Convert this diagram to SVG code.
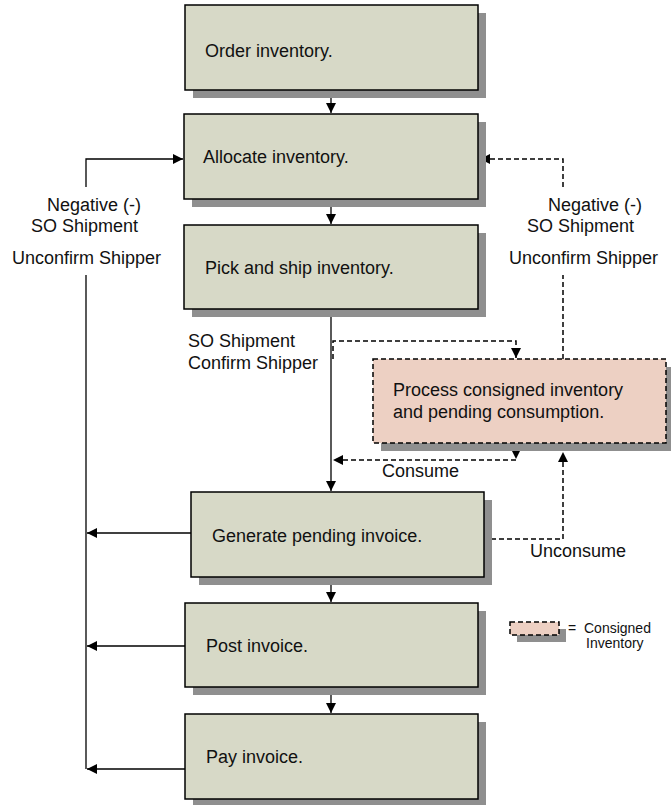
<svg xmlns="http://www.w3.org/2000/svg" width="671" height="805" viewBox="0 0 671 805">
<style>
  .box{fill:#d7d9c7;stroke:#000;stroke-width:1.5}
  .pink{fill:#edd0c3;stroke:#000;stroke-width:1.5;stroke-dasharray:5,3}
  .shadow{fill:#8f8f8f}
  .t{font-family:"Liberation Sans",Arial,sans-serif;font-size:18px;fill:#111}
  .s{font-family:"Liberation Sans",Arial,sans-serif;font-size:14px;fill:#111}
  .ln{fill:none;stroke:#000;stroke-width:1.3}
  .dl{fill:none;stroke:#000;stroke-width:1.5;stroke-dasharray:5,3}
</style>
<defs>
  <marker id="arr" markerUnits="userSpaceOnUse" markerWidth="10" markerHeight="10" viewBox="0 0 10 10" refX="10" refY="5" orient="auto">
    <path d="M0,0 L10,5 L0,10 z" fill="#000"/>
  </marker>
</defs>
<rect width="671" height="805" fill="#fff"/>

<g id="connectors">
  <path class="ln" d="M331,90 V113" marker-end="url(#arr)"/>
  <path class="ln" d="M331,199 V224" marker-end="url(#arr)"/>
  <path class="ln" d="M331,309 V491" marker-end="url(#arr)"/>
  <path class="ln" d="M331,577 V602" marker-end="url(#arr)"/>
  <path class="ln" d="M331,687 V713" marker-end="url(#arr)"/>
  <path class="ln" d="M86,187 V159 H183" marker-end="url(#arr)"/>
  <path class="ln" d="M86,275 V769"/>
  <path class="ln" d="M191,533 H87" marker-end="url(#arr)"/>
  <path class="ln" d="M185,646 H87" marker-end="url(#arr)"/>
  <path class="ln" d="M185,769 H87" marker-end="url(#arr)"/>
  <path class="dl" d="M563,187 V159 H480" marker-end="url(#arr)"/>
  <path class="dl" d="M563,359 V275"/>
  <path class="dl" d="M333,359 V341 H516 V358" marker-end="url(#arr)"/>
  <path class="dl" d="M516,443 V459" marker-end="url(#arr)"/>
  <path class="dl" d="M516,460 H333" marker-end="url(#arr)"/>
  <path class="dl" d="M491,539 H563 V452" marker-end="url(#arr)"/>
</g>

<g id="order">
  <rect class="shadow" x="193" y="13" width="293" height="85"/>
  <rect class="box" x="185" y="5" width="293" height="85"/>
  <text class="t" x="205" y="57">Order inventory.</text>
</g>
<g id="allocate">
  <rect class="shadow" x="192" y="122" width="294" height="85"/>
  <rect class="box" x="184" y="114" width="294" height="85"/>
  <text class="t" x="203" y="163">Allocate inventory.</text>
</g>
<g id="pick">
  <rect class="shadow" x="192" y="233" width="294" height="84"/>
  <rect class="box" x="184" y="225" width="294" height="84"/>
  <text class="t" x="205" y="274">Pick and ship inventory.</text>
</g>
<g id="process">
  <rect class="shadow" x="381" y="367" width="293" height="84"/>
  <rect class="pink" x="373" y="359" width="293" height="84"/>
  <text class="t" x="393" y="396">Process consigned inventory</text>
  <text class="t" x="393" y="418">and pending consumption.</text>
</g>
<g id="generate">
  <rect class="shadow" x="199" y="500" width="293" height="85"/>
  <rect class="box" x="191" y="492" width="293" height="85"/>
  <text class="t" x="212" y="542">Generate pending invoice.</text>
</g>
<g id="post">
  <rect class="shadow" x="193" y="611" width="293" height="84"/>
  <rect class="box" x="185" y="603" width="293" height="84"/>
  <text class="t" x="206" y="652">Post invoice.</text>
</g>
<g id="pay">
  <rect class="shadow" x="193" y="722" width="293" height="85"/>
  <rect class="box" x="185" y="714" width="293" height="85"/>
  <text class="t" x="206" y="763">Pay invoice.</text>
</g>

<g id="labels">
  <text class="t" x="47" y="211">Negative (-)</text>
  <text class="t" x="31" y="232">SO Shipment</text>
  <text class="t" x="12" y="264">Unconfirm Shipper</text>
  <text class="t" x="548" y="211">Negative (-)</text>
  <text class="t" x="527" y="232">SO Shipment</text>
  <text class="t" x="509" y="264">Unconfirm Shipper</text>
  <text class="t" x="188" y="347">SO Shipment</text>
  <text class="t" x="188" y="369">Confirm Shipper</text>
  <text class="t" x="382" y="477">Consume</text>
  <text class="t" x="530" y="557">Unconsume</text>
</g>

<g id="legend">
  <rect class="shadow" x="517" y="629" width="49" height="13"/>
  <rect class="pink" x="510" y="622" width="49" height="13"/>
  <text class="s" x="568" y="633">=</text>
  <text class="s" x="584" y="633">Consigned</text>
  <text class="s" x="586" y="648">Inventory</text>
</g>
</svg>
